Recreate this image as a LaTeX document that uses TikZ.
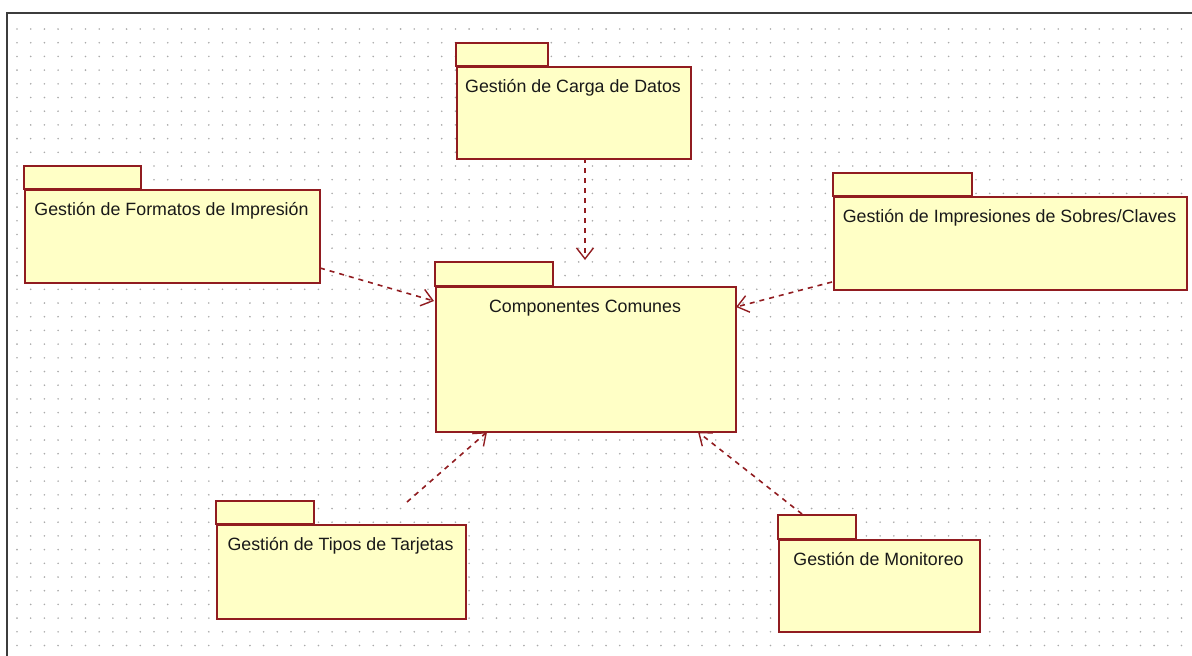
\documentclass[tikz,border=0pt]{standalone}
\usepackage{fontspec}
\setmainfont{Liberation Sans}
\usetikzlibrary{arrows.meta}
\definecolor{pkgline}{RGB}{145,28,32}
\definecolor{pkgfill}{RGB}{255,255,198}
\definecolor{dotgray}{RGB}{170,170,170}
\definecolor{framegray}{RGB}{60,60,60}
\tikzset{
  pkgbody/.style={draw=pkgline, fill=pkgfill, line width=1.7pt, inner sep=0pt, anchor=north west},
  pkgtab/.style={draw=pkgline, fill=pkgfill, line width=1.7pt},
  pkglabel/.style={anchor=base, inner sep=0pt, font=\fontsize{17.8}{20}\selectfont, text=black!90},
  dep/.style={draw=pkgline, line width=1.6pt, dash pattern=on 5pt off 5pt,
    -{Straight Barb[length=11pt, width=17pt, line width=1.4pt]}},
}
% #1 name, #2 x, #3 y (tab top), #4 body width, #5 body height, #6 tab width, #7 tab height, #8 text
\newcommand{\umlpkg}[8]{%
  \draw[pkgtab] (#2,#3) rectangle ++(#6,#7);
  \node[pkgbody, minimum width=#4pt, minimum height=#5pt] (#1) at (#2,#3+#7) {};
  \node[pkglabel] (#1-label) at (#2+#4/2,#3+#7+26.5) {#8};
}
\begin{document}
\begin{tikzpicture}[x=1pt, y=-1pt]
\useasboundingbox (0,0) rectangle (1192,656);
% dotted grid
\foreach \i in {0,...,85} {
  \foreach \j in {0,...,45} {
    \fill[dotgray] (17+\i*13.7, 29+\j*13.7) circle (0.9pt);
  }
}
% frame
\draw[framegray, line width=2pt] (7,660) -- (7,13) -- (1196,13);
% packages
\umlpkg{carga}{456}{43}{234}{92}{92}{23}{Gestión de Carga de Datos}
\umlpkg{formatos}{24}{166}{295}{93}{117}{23}{Gestión de Formatos de Impresión}
\umlpkg{sobres}{833}{173}{353}{93}{139}{23}{Gestión de Impresiones de Sobres/Claves}
\umlpkg{comunes}{435}{262}{300}{145}{118}{24}{Componentes Comunes}
\umlpkg{tipos}{216}{501}{249}{94}{98}{23}{Gestión de Tipos de Tarjetas}
\umlpkg{monitoreo}{778}{515}{201}{92}{78}{24}{Gestión de Monitoreo}
% connector endpoints
\coordinate (c1s) at (585,158);  \coordinate (c1e) at (585,260);
\coordinate (c2s) at (320,268);  \coordinate (c2e) at (434,301);
\coordinate (c3s) at (832,282);  \coordinate (c3e) at (736,307);
\coordinate (c4s) at (407,502);  \coordinate (c4e) at (487,432);
\coordinate (c5s) at (802,514);  \coordinate (c5e) at (698,432);
\draw[dep] (c1s) -- (c1e);
\draw[dep] (c2s) -- (c2e);
\draw[dep] (c3s) -- (c3e);
\draw[dep] (c4s) -- (c4e);
\draw[dep] (c5s) -- (c5e);
\end{tikzpicture}
\end{document}
